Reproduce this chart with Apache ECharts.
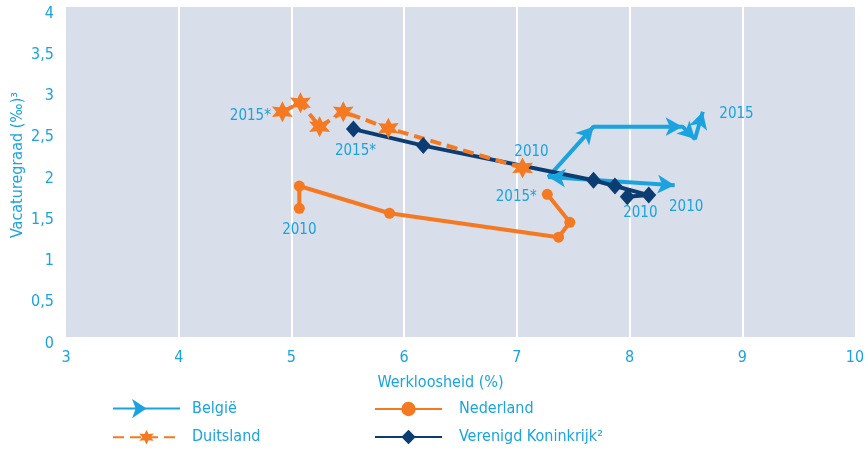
<!DOCTYPE html>
<html>
<head>
<meta charset="utf-8">
<script src="https://cdn.jsdelivr.net/npm/echarts@6/dist/echarts.min.js"></script>
<style>
  html, body { margin: 0; padding: 0; background: #fff; }
  #chart { width: 865px; height: 450px; }
</style>
</head>
<body>
<div id="chart"></div>
<script>
var blauw = '#1AA3DF', oranje = '#F47920', navy = '#0B3D73';
var font = "'Liberation Sans Narrow', 'DejaVu Sans Condensed', 'Noto Sans', sans-serif";

// [werkloosheid, vacaturegraad], 2010 .. 2015
var belgie     = [[8.40,1.84],[7.28,1.94],[7.68,2.55],[8.47,2.55],[8.58,2.40],[8.65,2.73]];
var duitsland  = [[7.05,2.05],[5.86,2.53],[5.46,2.73],[5.25,2.55],[5.08,2.84],[4.92,2.73]];
var nederland  = [[5.07,1.56],[5.07,1.83],[5.87,1.50],[7.37,1.21],[7.47,1.39],[7.27,1.73]];
var vk         = [[7.98,1.70],[8.17,1.72],[7.87,1.83],[7.68,1.90],[6.17,2.32],[5.55,2.52]];

// jaartal-labels: [index, tekst, offset]
var labels = {
  'België': [[0,'2010',[20,22]],[5,'2015',[36,-6]]],
  'Duitsland': [[0,'2010',[9,-16]],[5,'2015*',[-32,4]]],
  'Nederland': [[0,'2010',[0,22]],[5,'2015*',[-31,3]]],
  'Verenigd Koninkrijk²': [[0,'2010',[13,16]],[5,'2015*',[2,22]]]
};

function starPath(n, r1, r2){
  var s = 'path://';
  for (var i = 0; i < 2*n; i++) {
    var r = i % 2 ? r2 : r1;
    var a = -Math.PI/2 + i*Math.PI/n;
    s += (i ? 'L' : 'M') + (r*Math.cos(a)).toFixed(3) + ' ' + (r*Math.sin(a)).toFixed(3);
  }
  return s + 'Z';
}

function maakData(name, punten, extra){
  var lab = labels[name];
  return punten.map(function(p, i){
    var item = {value: p};
    lab.forEach(function(l){
      if (l[0] === i) {
        item.label = {show: true, formatter: l[1], position: 'inside', offset: l[2],
                      color: blauw, fontSize: 15, fontFamily: font};
      }
    });
    if (extra) { item.symbolRotate = extra[i]; }
    return item;
  });
}

function maakOption(rot){
  return {
    animation: false,
    textStyle: { fontFamily: font },
    grid: {
      left: 66, right: 10, top: 7, bottom: 113,
      outerBoundsMode: 'none', containLabel: false,
      show: true, backgroundColor: '#D9DEEB', borderWidth: 0
    },
    legend: [
      {
        data: ['België', 'Duitsland'],
        orient: 'vertical', left: 107, top: 394, height: 56,
        itemWidth: 67, itemHeight: 18, itemGap: 11,
        textStyle: { color: blauw, fontSize: 16, fontFamily: font, padding: [0,0,0,7] }
      },
      {
        data: ['Nederland', 'Verenigd Koninkrijk²'],
        orient: 'vertical', left: 369, top: 396, height: 54,
        itemWidth: 67, itemHeight: 18, itemGap: 12,
        textStyle: { color: blauw, fontSize: 16, fontFamily: font, padding: [0,0,0,12] }
      }
    ],
    xAxis: {
      type: 'value', min: 3, max: 10, interval: 1,
      name: 'Werkloosheid (%)', nameLocation: 'middle', nameGap: 38,
      nameTextStyle: { color: blauw, fontSize: 16, fontFamily: font, padding: [0,40,0,0] },
      axisLine: { show: false },
      axisTick: { show: false },
      axisLabel: { color: blauw, fontSize: 16, fontFamily: font, margin: 13 },
      splitLine: { show: true, showMinLine: false, showMaxLine: false,
                   lineStyle: { color: '#ffffff', width: 2 } }
    },
    yAxis: {
      type: 'value', min: 0, max: 4, interval: 0.5,
      name: 'Vacaturegraad (‰)³', nameLocation: 'middle', nameGap: 40,
      nameMoveOverlap: false,
      nameTextStyle: { color: blauw, fontSize: 16, fontFamily: font, padding: [0,0,0,14] },
      axisLine: { show: false },
      axisTick: { show: false },
      axisLabel: {
        margin: 12,
        formatter: function(v){ return '{a|' + String(v).replace('.', ',') + '}'; },
        rich: { a: { color: blauw, fontSize: 16, fontFamily: font, padding: [13,0,0,0] } }
      },
      splitLine: { show: false }
    },
    series: [
      {
        name: 'België', type: 'line',
        symbol: 'arrow', symbolSize: [14, 17], symbolRotate: -90,
        itemStyle: { color: blauw },
        lineStyle: { color: blauw, width: 4 },
        data: maakData('België', belgie, rot)
      },
      {
        name: 'Nederland', type: 'line',
        symbol: 'circle', symbolSize: 11,
        itemStyle: { color: oranje },
        lineStyle: { color: oranje, width: 4 },
        data: maakData('Nederland', nederland)
      },
      {
        name: 'Verenigd Koninkrijk²', type: 'line',
        symbol: 'diamond', symbolSize: [15, 17],
        itemStyle: { color: navy },
        lineStyle: { color: navy, width: 4 },
        data: maakData('Verenigd Koninkrijk²', vk)
      },
      {
        name: 'Duitsland', type: 'line',
        symbol: starPath(6, 1, 0.5), symbolSize: 21,
        itemStyle: { color: oranje },
        lineStyle: { color: oranje, width: 4, type: [11, 6] },
        data: maakData('Duitsland', duitsland)
      }
    ]
  };
}

var myChart = echarts.init(document.getElementById('chart'));
myChart.setOption(maakOption(null));

// pijlen in de richting van de lijn draaien
var px = belgie.map(function(p){ return myChart.convertToPixel({gridIndex: 0}, p); });
var rot = px.map(function(p, i){
  var a = i === 0 ? px[1] : px[i-1];
  var b = i === 0 ? px[0] : p;
  var ang = Math.atan2(-(b[1]-a[1]), b[0]-a[0]) * 180 / Math.PI;
  return ang - 90;
});
myChart.setOption(maakOption(rot));

window.addEventListener('resize', function(){
  myChart.resize();
});
</script>
</body>
</html>
